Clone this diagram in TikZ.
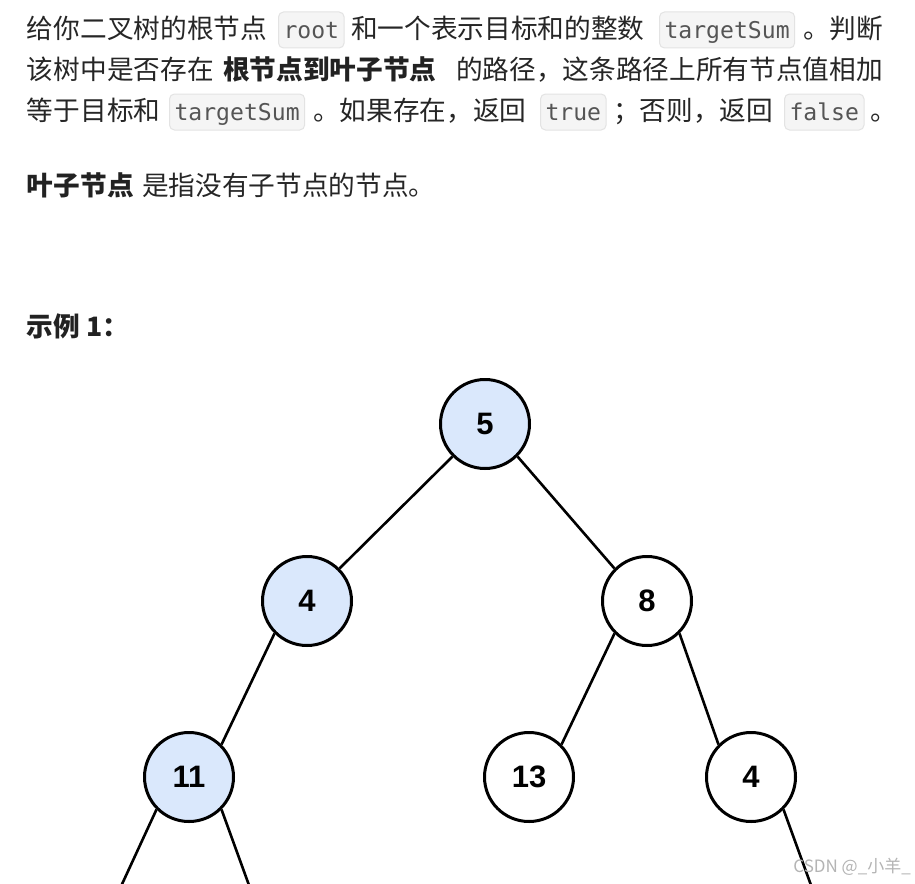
\documentclass[tikz,border=0pt]{standalone}
\usepackage{fontspec}
\setmainfont{Noto Sans CJK SC}
\newfontfamily\digitfont{Liberation Sans}
\newfontfamily\codefont{DejaVu Sans Mono}
\definecolor{txt}{HTML}{262626}
\definecolor{txtb}{HTML}{222222}
\definecolor{codetxt}{HTML}{555555}
\definecolor{chipbg}{HTML}{F5F5F5}
\definecolor{chipline}{HTML}{E3E3E3}
\definecolor{hl}{HTML}{DAE8FC}
\definecolor{wm}{HTML}{B4B4B4}
\tikzset{
  cn/.style={anchor=base west, inner sep=0pt, outer sep=0pt, text=txt,
    font=\fontsize{26.67}{30}\selectfont},
  cnb/.style={cn, text=txtb, font=\fontsize{26.67}{30}\selectfont\bfseries},
  chip/.style={anchor=base west, fill=chipbg, draw=chipline, line width=1pt,
    rounded corners=5pt, inner xsep=5pt, inner ysep=0pt, text height=26pt,
    text depth=10pt, text=codetxt, font=\codefont\fontsize{23.1}{26}\selectfont},
  tn/.style={circle, draw=black, line width=3pt, minimum size=89pt, inner sep=0pt,
    fill=white, font=\digitfont\bfseries\fontsize{31}{33}\selectfont},
  tnh/.style={tn, fill=hl},
  edge/.style={draw=black, line width=2.6pt},
}
\begin{document}
\begin{tikzpicture}[x=1pt,y=-1pt]
\useasboundingbox (0,0) rectangle (915,883);
\clip (0,0) rectangle (915,883);
\fill[white] (0,0) rectangle (915,883);

% line 1
\node[cn] (l1a) at (27,38) {给你二叉树的根节点};
\node[chip] (l1root) at (278,38) {root};
\node[cn] (l1b) at (351,38) {和一个表示目标和的整数};
\node[chip] (l1sum) at (659,38) {targetSum};
\node[cn] (l1c) at (803,38) {。判断};
% line 2
\node[cn] (l2a) at (27,79) {该树中是否存在};
\node[cnb] (l2b) at (223,79) {根节点到叶子节点};
\node[cn] (l2c) at (456,79) {的路径，这条路径上所有节点值相加};
% line 3
\node[cn] (l3a) at (27,120) {等于目标和};
\node[chip] (l3sum) at (169,120) {targetSum};
\node[cn] (l3b) at (313,120) {。如果存在，返回};
\node[chip] (l3true) at (540,120) {true};
\node[cn] (l3c) at (613,120) {；否则，返回};
\node[chip] (l3false) at (784,120) {false};
\node[cn] (l3d) at (870,120) {。};
% line 4
\node[cnb] (l4a) at (27,195) {叶子节点};
\node[cn] (l4b) at (142,195) {是指没有子节点的节点。};
% example
\node[cnb] (ex) at (27,336) {示例 1：};

% tree
\node[tnh] (n5) at (485,424) {5};
\node[tnh] (n4a) at (307,601) {4};
\node[tn] (n8) at (647,601) {8};
\node[tnh] (n11) at (189,777) {11};
\node[tn] (n13) at (529,777) {13};
\node[tn] (n4b) at (751,777) {4};
\coordinate (c7) at (105,921);
\coordinate (c2) at (262,921);
\coordinate (c1) at (824,921);

\draw[edge] (n5.south west) -- (n4a.north east);
\draw[edge] (n5.south east) -- (n8.north west);
\draw[edge] (n4a.south west) -- (n11.north east);
\draw[edge] (n8.south west) -- (n13.north east);
\draw[edge] (n8.south east) -- (n4b.north west);
\draw[edge] (n11.south west) -- (c7);
\draw[edge] (n11.south east) -- (c2);
\draw[edge] (n4b.south east) -- (c1);

% watermark
\node[anchor=east, inner sep=0pt, text=wm, font=\fontsize{17}{19}\selectfont] (wmk) at (911,867) {CSDN @\_小羊\_};
\end{tikzpicture}
\end{document}
